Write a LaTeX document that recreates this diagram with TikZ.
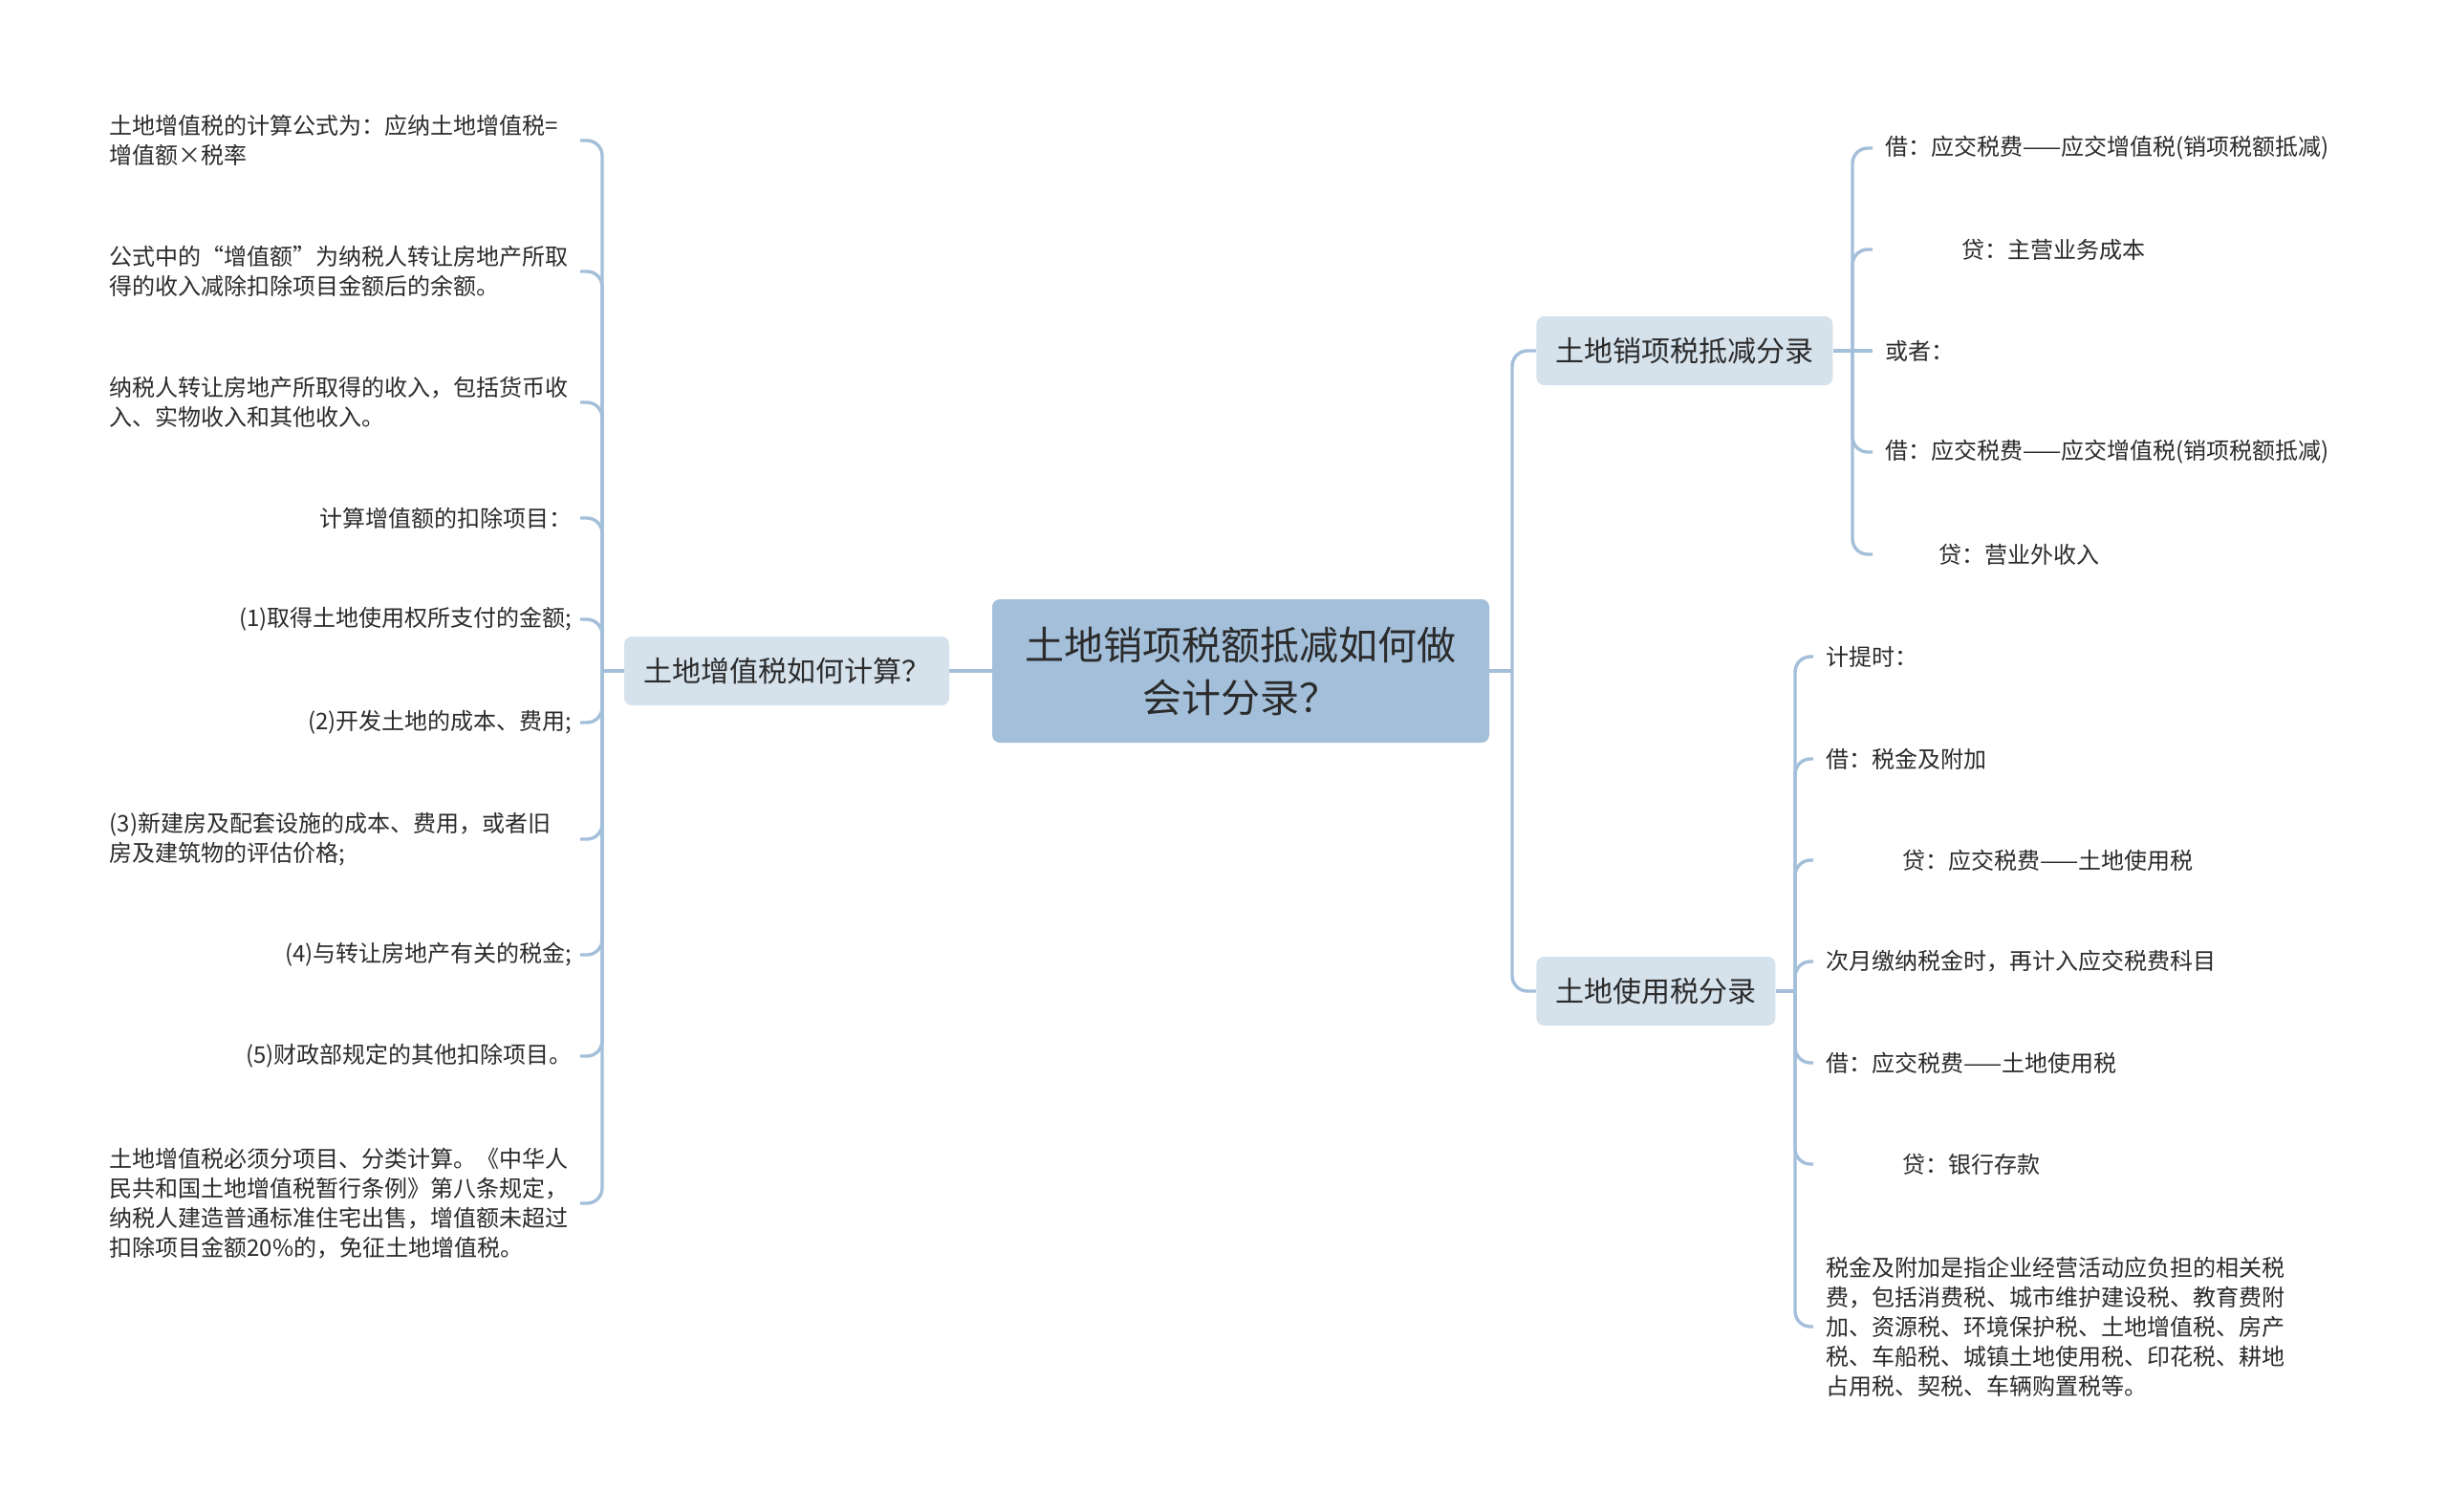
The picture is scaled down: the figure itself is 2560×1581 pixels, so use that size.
\documentclass[tikz,border=0pt]{standalone}
\usepackage{fontspec}
\setmainfont{Noto Sans CJK SC}
\usepackage{tikz}
\usepackage{xcolor}
\definecolor{rootfill}{HTML}{A3BFDA}
\definecolor{subfill}{HTML}{D5E1EB}
\definecolor{linkcol}{HTML}{A3BFDA}
\definecolor{txtcol}{HTML}{2B2B2B}

\begin{document}
\begin{tikzpicture}[x=0.5pt, y=-0.5pt,
  link/.style={draw=linkcol, line width=1.7pt, rounded corners=8pt},
  root/.style={fill=rootfill, rounded corners=4pt, minimum width=260pt, minimum height=75pt,
    align=center, text=txtcol, font=\fontsize{20.5pt}{27.5pt}\selectfont},
  topic/.style={fill=subfill, rounded corners=4pt, minimum height=36pt, inner xsep=10pt,
    text=txtcol, font=\fontsize{15pt}{18pt}\selectfont},
  leaf/.style={inner ysep=1pt, text=txtcol, font=\fontsize{12pt}{15.5pt}\selectfont},
  leafl/.style={leaf, anchor=east, inner xsep=4pt},
  leafr/.style={leaf, anchor=west, inner xsep=6.5pt},
  note/.style={text width=242pt, align=left}]
  \useasboundingbox (0,0) rectangle (2560,1581);
  \fill[white] (0,0) rectangle (2560,1581);

  \node[root] (root) at (1298,702) {土地销项税额抵减如何做\\会计分录？};
  \node[topic] (calc) at (823,702) {土地增值税如何计算？};
  \node[topic, anchor=west] (sales) at (1607,367) {土地销项税抵减分录};
  \node[topic, anchor=west] (use) at (1607,1037) {土地使用税分录};

  \coordinate (lspine) at (630,702);
  \coordinate (rtrunk) at (1582,702);
  \coordinate (sspine) at (1938,367);
  \coordinate (uspine) at (1878,1037);

  \node[leafl, note] (l1) at (607,147) {土地增值税的计算公式为：应纳土地增值税=\\增值额×税率};
  \node[leafl, note] (l2) at (607,284) {公式中的“增值额”为纳税人转让房地产所取\\得的收入减除扣除项目金额后的余额。};
  \node[leafl, note] (l3) at (607,421) {纳税人转让房地产所取得的收入，包括货币收\\入、实物收入和其他收入。};
  \node[leafl] (l4) at (607,542) {计算增值额的扣除项目：};
  \node[leafl] (l5) at (607,648) {(1)取得土地使用权所支付的金额;};
  \node[leafl] (l6) at (607,756) {(2)开发土地的成本、费用;};
  \node[leafl, note] (l7) at (607,878) {(3)新建房及配套设施的成本、费用，或者旧\\房及建筑物的评估价格;};
  \node[leafl] (l8) at (607,999) {(4)与转让房地产有关的税金;};
  \node[leafl] (l9) at (607,1105) {(5)财政部规定的其他扣除项目。};
  \node[leafl, note] (l10) at (607,1259) {土地增值税必须分项目、分类计算。《中华人\\民共和国土地增值税暂行条例》第八条规定，\\纳税人建造普通标准住宅出售，增值额未超过\\扣除项目金额20\%的，免征土地增值税。};

  \node[leafr] (s1) at (1959,155) {借：应交税费——应交增值税(销项税额抵减)};
  \node[leafr] (s2) at (1959,261) {\hspace*{40pt}贷：主营业务成本};
  \node[leafr] (s3) at (1959,367) {或者：};
  \node[leafr] (s4) at (1959,473) {借：应交税费——应交增值税(销项税额抵减)};
  \node[leafr] (s5) at (1959,580) {\hspace*{28pt}贷：营业外收入};

  \node[leafr] (u1) at (1897,687) {计提时：};
  \node[leafr] (u2) at (1897,794) {借：税金及附加};
  \node[leafr] (u3) at (1897,900) {\hspace*{40pt}贷：应交税费——土地使用税};
  \node[leafr] (u4) at (1897,1006) {次月缴纳税金时，再计入应交税费科目};
  \node[leafr] (u5) at (1897,1112) {借：应交税费——土地使用税};
  \node[leafr] (u6) at (1897,1218) {\hspace*{40pt}贷：银行存款};
  \node[leafr, note] (u7) at (1897,1388) {税金及附加是指企业经营活动应负担的相关税\\费，包括消费税、城市维护建设税、教育费附\\加、资源税、环境保护税、土地增值税、房产\\税、车船税、城镇土地使用税、印花税、耕地\\占用税、契税、车辆购置税等。};

  \draw[link] (root.west) -- (calc.east);
  \draw[link] (calc.west) -- (lspine);
  \foreach \n in {1,...,10} \draw[link] (lspine) |- (l\n.east);
  \draw[link] (root.east) -- (rtrunk);
  \foreach \n in {sales,use} \draw[link] (rtrunk) |- (\n.west);
  \draw[link] (sales.east) -- (sspine);
  \foreach \n in {1,2,4,5} \draw[link] (sspine) |- (s\n.west);
  \draw[link] (sspine) -- (s3.west);
  \draw[link] (use.east) -- (uspine);
  \foreach \n in {1,...,7} \draw[link] (uspine) |- (u\n.west);
\end{tikzpicture}
\end{document}
